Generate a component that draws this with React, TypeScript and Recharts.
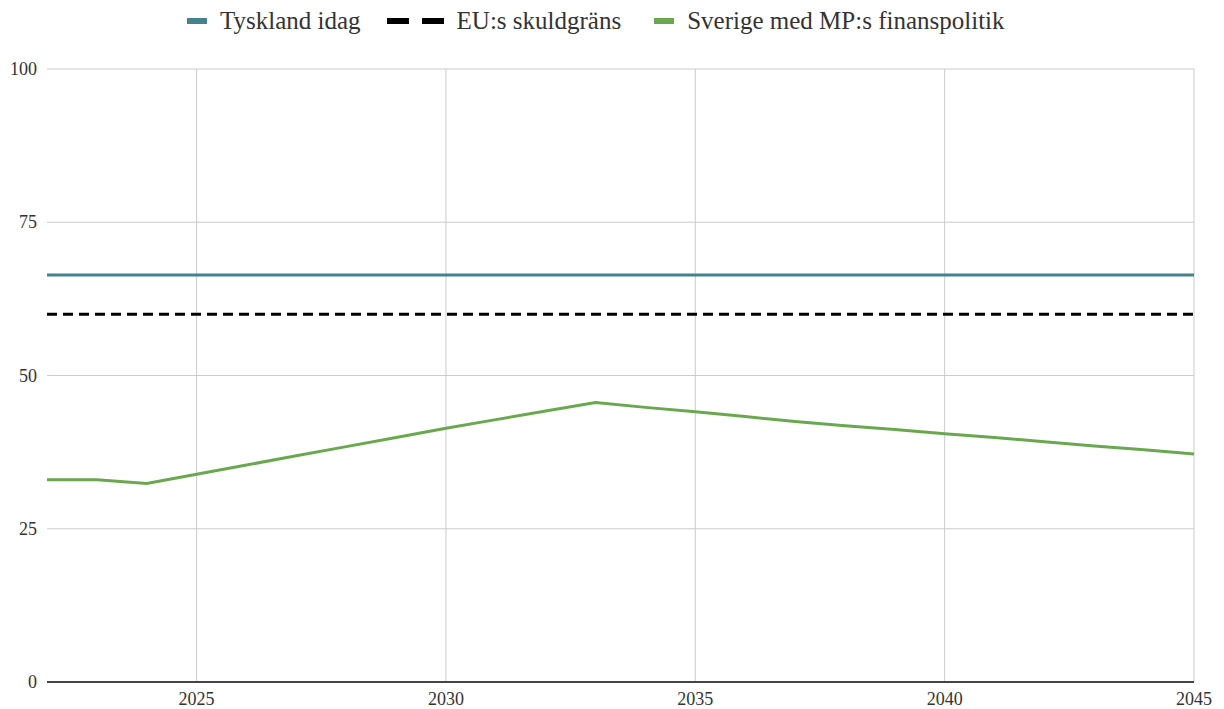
import React from "react";
import { LineChart, Line, XAxis, YAxis, CartesianGrid } from "recharts";

const years = [2022, 2023, 2024, 2025, 2026, 2027, 2028, 2029, 2030, 2031, 2032, 2033, 2034, 2035, 2036, 2037, 2038, 2039, 2040, 2041, 2042, 2043, 2044, 2045];
const tyskland = years.map(() => 66.4);
const euGrans = years.map(() => 60);
const sverige = [33.0, 33.0, 32.4, 33.9, 35.4, 36.9, 38.4, 39.9, 41.4, 42.8, 44.2, 45.6, 44.8, 44.1, 43.3, 42.5, 41.8, 41.2, 40.5, 39.9, 39.2, 38.5, 37.9, 37.2];
const xTicks = [2025, 2030, 2035, 2040, 2045];
const yTicks = [0, 25, 50, 75, 100];

const data = years.map((y, i) => ({
  year: y,
  tyskland: tyskland[i],
  eu: euGrans[i],
  sverige: sverige[i],
}));

const FONT = "Liberation Serif, serif";

const legendItems = [
  { label: "Tyskland idag", color: "#45818e", dashed: false, gapBefore: 0 },
  { label: "EU:s skuldgräns", color: "#000000", dashed: true, gapBefore: 26 },
  { label: "Sverige med MP:s finanspolitik", color: "#6aa84f", dashed: false, gapBefore: 33 },
];

function TopLegend() {
  return (
    <div style={{ position: "absolute", left: 187, top: 7, display: "flex", alignItems: "center", fontFamily: FONT, fontSize: 25, color: "#333", whiteSpace: "nowrap" }}>
      {legendItems.map((it) => (
        <div key={it.label} style={{ display: "flex", alignItems: "center", marginLeft: it.gapBefore }}>
          {it.dashed ? (
            <svg width={57} height={8} style={{ marginRight: 13 }}>
              <rect x={0} y={1} width={22} height={6} fill={it.color} />
              <rect x={35} y={1} width={22} height={6} fill={it.color} />
            </svg>
          ) : (
            <svg width={20} height={8} style={{ marginRight: 13 }}>
              <rect x={0} y={1} width={20} height={6} fill={it.color} />
            </svg>
          )}
          <span>{it.label}</span>
        </div>
      ))}
    </div>
  );
}

function XTick(props: any) {
  const { x, y, payload } = props;
  return (
    <text x={x} y={y + 13} textAnchor="middle" fontFamily={FONT} fontSize={18} fill="#333">
      {payload.value}
    </text>
  );
}

function YTick(props: any) {
  const { x, y, payload } = props;
  return (
    <text x={x} y={y + 6} textAnchor="end" fontFamily={FONT} fontSize={18} fill="#333">
      {payload.value}
    </text>
  );
}

export default function App() {
  return (
    <div style={{ position: "absolute", left: 0, top: 0, width: 1224, height: 709, background: "#fff", fontFamily: FONT }}>
      <TopLegend />
      <LineChart width={1224} height={709} data={data} margin={{ top: 69, right: 30, left: 0, bottom: 0 }}>
        <CartesianGrid stroke="#cccccc" strokeWidth={1} horizontalValues={[25, 50, 75, 100]} verticalValues={xTicks} />
        <XAxis
          dataKey="year"
          type="number"
          domain={[2022, 2045]}
          ticks={xTicks}
          height={27}
          tickLine={false}
          axisLine={{ stroke: "#444444", strokeWidth: 2 }}
          tick={<XTick />}
          tickMargin={4}
        />
        <YAxis
          type="number"
          domain={[0, 100]}
          ticks={yTicks}
          width={47}
          tickLine={false}
          axisLine={false}
          tick={<YTick />}
          tickMargin={4}
        />
        <Line type="linear" dataKey="tyskland" stroke="#45818e" strokeWidth={3} dot={false} isAnimationActive={false} />
        <Line type="linear" dataKey="eu" stroke="#000000" strokeWidth={3} strokeDasharray="10 6" dot={false} isAnimationActive={false} />
        <Line type="linear" dataKey="sverige" stroke="#6aa84f" strokeWidth={3} dot={false} isAnimationActive={false} />
      </LineChart>
    </div>
  );
}
